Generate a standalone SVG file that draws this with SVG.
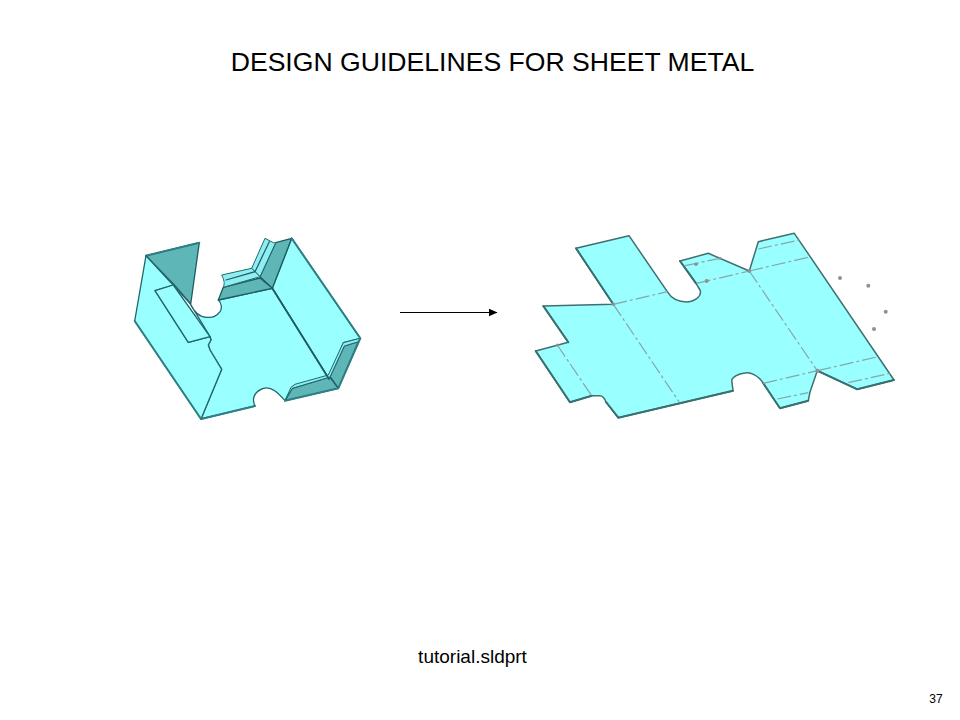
<svg xmlns="http://www.w3.org/2000/svg" width="960" height="720" viewBox="0 0 960 720">
<defs>
<style>
.t{font-family:"Liberation Sans",Arial,sans-serif;fill:#000}
.l{fill:#99ffff;stroke:#22666b;stroke-width:1.300;stroke-linejoin:round}
.d{fill:#5fb6b6;stroke:#1f5c60;stroke-width:1.300;stroke-linejoin:round}
.m{fill:#8feef2;stroke:#1f6a70;stroke-width:1;stroke-linejoin:round}
.e{fill:none;stroke:#1f5c60;stroke-width:1.200;stroke-linecap:round}
.b{fill:none;stroke:#2f7f85;stroke-width:2;stroke-linecap:round;stroke-linejoin:round}
.f{fill:none;stroke:#86a6aa;stroke-width:1.200;stroke-dasharray:14 3 3 3}
.p{fill:#8a9498}
</style>
<marker id="a" markerWidth="9" markerHeight="8" refX="8.500" refY="4" orient="auto" markerUnits="userSpaceOnUse"><path d="M0 0L9 4L0 8z" fill="#000"/></marker>
</defs>
<rect width="960" height="720" fill="#fff"/>
<text class="t" x="492.500" y="70.500" font-size="26.600" text-anchor="middle">DESIGN GUIDELINES FOR SHEET METAL</text>

<g id="folded">
<path class="d" d="M146 255.700L199.300 242.700L190.700 304L175 285.700Z"/>
<path class="b" d="M146 255.700L199.300 242.700"/>
<path class="l" d="M272.300 288.300L291.700 238.300L360.300 338.300L343.300 342.700L329 379Z"/>
<path class="l" d="M201 419L255 406C252 400 253 392 263.300 388.300C272 386 279 394 285 400.700L329 379L272.300 288.300L218.300 300C222 303 222 309 220 311.700C217 316 212 318 208.300 317.300C200 318 194 312 190 303.300L210 336.700L211 340L208.300 345L210 350L221.700 369.300Z"/>
<path class="l" d="M146 255.700L134.700 321L201 419L221.700 369.300L210 350L208.300 345L211 340L210 336.700L188.300 342.300L155 290.700L173.300 285L190 303.300Z"/>
<path class="l" d="M155 290.700L173.300 285L210 336.700L188.300 342.300Z"/>
<path class="d" d="M275.700 242.700L291.700 238.300L272.300 288.300L260 276.700Z"/>
<path class="d" d="M223.300 287.300L260 278L272.300 288.300L218.300 300Z"/>
<path class="m" d="M265 238.300L273.300 242.700L275.700 242.700L260 276.700L251.700 268.300Z"/>
<path class="m" d="M221.700 275L251.700 268.300L260 276.700L223.300 287.300C225 283 224 280 221.700 275Z"/>
<path class="e" d="M269.300 241.700L255 271.700L226 280"/>
<path class="d" d="M358.300 341.700L338.300 388.300L330 376.700L344.300 346Z"/>
<path class="d" d="M330 377L338.300 388.300L285 400.700L292.300 388.300Z"/>
<path class="m" d="M343.300 342.700L360.300 338.300L358.300 341.700L344.300 346L330 377L292.300 388.300L285 400.700L291 387.300L295 384.300L328.300 375Z"/>
<path class="b" d="M201 419L255 406M134.700 321L201 419M291.700 238.300L360.300 338.300L338.300 388.300L285 400.700"/>
<path class="e" d="M272.300 288.300L329 379" style="stroke-width:1.800"/>
</g>

<g id="connectors">
<path d="M400 312.500H497" fill="none" stroke="#000" stroke-width="1.200" marker-end="url(#a)"/>
</g>

<g id="flat">
<path class="l" style="stroke:#3f6f70;stroke-width:1.500" d="M576 248.300L629 235.700L667.300 291.700C671 298 678 302 687 302C697 301 702 295 700 290L696 283.300L680 261L708.300 253.300L749.300 271L758.300 241.700L794.300 233.300L894 380L857.300 389.300L817.300 370.700L810 392L808.300 400.700L780 408.300L763.300 383.300C758 375 750 372 745 373C738 374 733 377 731.700 380L733 390.700L618.300 417.700L606 402C604 397 602 395.700 600 395.700L591.700 395.700L570 402.300L535.700 351L568.300 342.300L543.300 306L613.300 304.300Z"/>
<path class="b" style="stroke:#3a7072" d="M576 248.300L613.300 304.300M543.300 306L568.300 342.300M535.700 351L570 402.300L591.700 395.700M606 402L618.300 417.700L733 390.700M763.300 383.300L780 408.300L808.300 400.700M817.300 370.700L857.300 389.300L894 380M680 261L696 283.300"/>
<path class="f" d="M613.300 304.300L667.300 291.700M613.300 304.300L679 401.700M557.300 345L591.700 395.700M696.700 283.300L749.300 271M685 265.700L720 258.300M749.300 271L817.300 370.700M749.300 271L810.700 256.700M758.300 249L799.300 240M763.300 383.300L817.300 370.700M817.300 370.700L878.300 356.700M777.300 399L808.300 392.700M848.300 382.700L890 373.300"/>
<circle class="p" cx="840" cy="278" r="2"/><circle class="p" cx="868.300" cy="285.700" r="2"/><circle class="p" cx="885.700" cy="311.700" r="2"/><circle class="p" cx="874" cy="329" r="2"/>
<circle class="p" cx="706.700" cy="281" r="2"/><circle class="p" cx="696" cy="264.300" r="1.800"/><circle class="p" cx="720" cy="258.300" r="1.500"/><circle class="p" cx="749.300" cy="271" r="2"/><circle class="p" cx="817.300" cy="370.700" r="2"/><circle class="p" cx="613.300" cy="304.300" r="1.800"/><circle class="p" cx="557.300" cy="345" r="1.500"/>
</g>

<text class="t" x="472.500" y="663" font-size="19" text-anchor="middle">tutorial.sldprt</text>
<text class="t" x="936" y="703" font-size="12" text-anchor="middle">37</text>
</svg>
